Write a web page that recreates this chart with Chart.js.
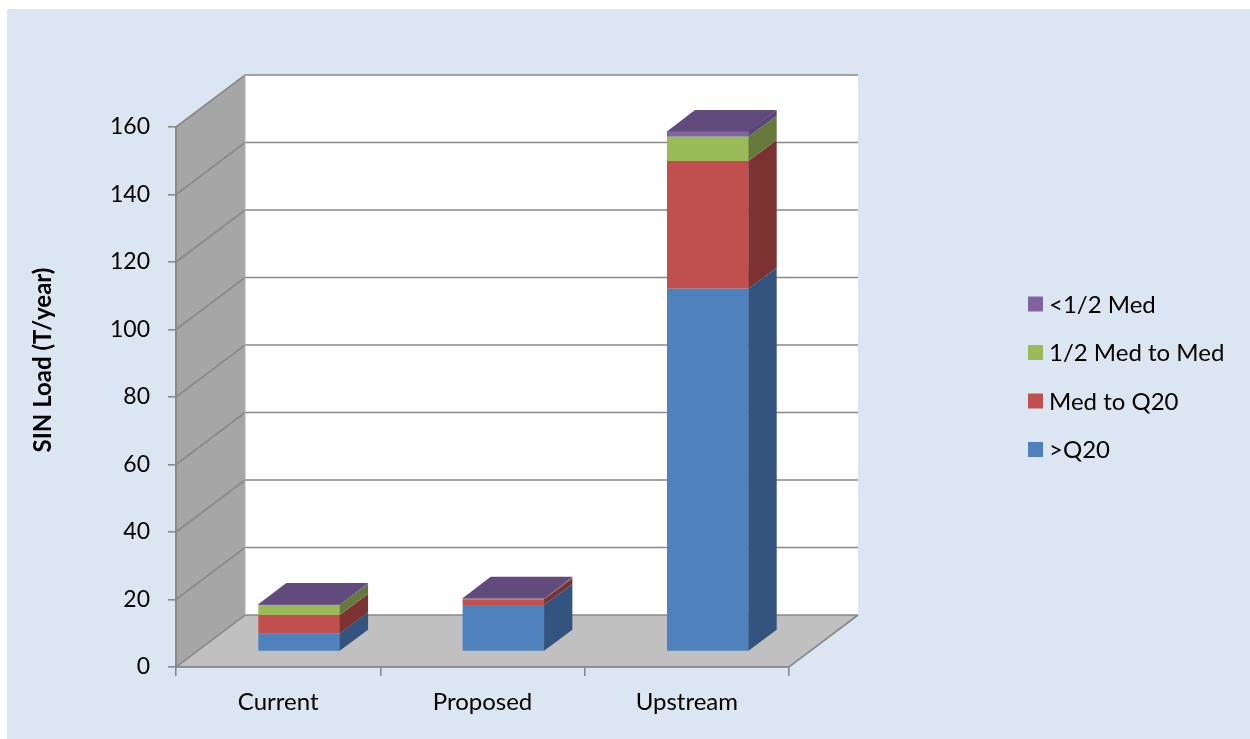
<!DOCTYPE html>
<html>
<head>
<meta charset="utf-8">
<script src="https://cdn.jsdelivr.net/npm/chart.js@4/dist/chart.umd.min.js"></script>
<style>
html,body{margin:0;padding:0;background:#ffffff;}
canvas{display:block;}
</style>
</head>
<body>
<canvas id="c" width="1250" height="739"></canvas>
<script>
const categories = ["Current", "Proposed", "Upstream"];
const seriesNames = [">Q20", "Med to Q20", "1/2 Med to Med", "<1/2 Med"];
const q20Above = [5.4, 13.8, 107.5];
const medToQ20 = [5.4, 1.7, 37.8];
const halfMedToMed = [3.0, 0.1, 7.2];
const belowHalfMed = [0.3, 0.3, 1.7];
const yTicks = [0, 20, 40, 60, 80, 100, 120, 140, 160];

const frontColors = ["#4f81bd", "#c0504d", "#9bbb59", "#8064a2"];
const sideColors = ["#32547f", "#7b3231", "#657a3a", "#5a4677"];
const topColors = ["#3d6699", "#9a403d", "#7c9647", "#614b7c"];

const FONT = "Lato, 'Open Sans', sans-serif";
const BAR_OFF = {x: 21, y: -15.5};
const BAR_DEPTH = {x: 28, y: -21};
const WALL_DEPTH = {x: 69, y: -52};
const GRID = "#898989";

const threeD = {
  id: "threeD",
  beforeDraw(chart) {
    const ctx = chart.ctx;
    const W = chart.width, H = chart.height;
    ctx.save();
    ctx.fillStyle = "#ffffff";
    ctx.fillRect(0, 0, W, H);
    ctx.fillStyle = "#dce6f2";
    ctx.fillRect(7, 9, W - 7, H - 9);
    const xs = chart.scales.x, ys = chart.scales.y;
    const L = xs.left, R = xs.right;
    const y0 = ys.getPixelForValue(yTicks[0]);
    const yT = ys.getPixelForValue(yTicks[yTicks.length - 1]);
    const dx = WALL_DEPTH.x, dy = WALL_DEPTH.y;
    // back wall
    ctx.fillStyle = "#ffffff";
    ctx.fillRect(L + dx, yT + dy, R - L, y0 - yT);
    // left wall
    ctx.fillStyle = "#a6a6a6";
    ctx.beginPath();
    ctx.moveTo(L, y0); ctx.lineTo(L, yT); ctx.lineTo(L + dx, yT + dy); ctx.lineTo(L + dx, y0 + dy); ctx.closePath();
    ctx.fill();
    // floor
    ctx.fillStyle = "#c0c0c0";
    ctx.beginPath();
    ctx.moveTo(L, y0); ctx.lineTo(R, y0); ctx.lineTo(R + dx, y0 + dy); ctx.lineTo(L + dx, y0 + dy); ctx.closePath();
    ctx.fill();
    // grid lines
    ctx.strokeStyle = GRID;
    ctx.lineWidth = 1.6;
    yTicks.forEach(v => {
      const y = ys.getPixelForValue(v);
      ctx.beginPath();
      ctx.moveTo(L, y); ctx.lineTo(L + dx, y + dy); ctx.lineTo(R + dx, y + dy);
      ctx.stroke();
    });
    // edges
    ctx.beginPath();
    ctx.moveTo(L, yT); ctx.lineTo(L, y0); ctx.lineTo(R, y0); ctx.lineTo(R + dx, y0 + dy);
    ctx.stroke();
    ctx.lineWidth = 1;
    ctx.strokeStyle = "#b0b0b0";
    ctx.beginPath();
    ctx.moveTo(L + dx, yT + dy); ctx.lineTo(L + dx, y0 + dy);
    ctx.stroke();
    ctx.restore();
  },
  beforeDatasetsDraw(chart) {
    chart.ctx.save();
    chart.ctx.translate(BAR_OFF.x, BAR_OFF.y);
  },
  afterDatasetsDraw(chart) {
    const ctx = chart.ctx;
    ctx.restore();
    ctx.save();
    const n = chart.data.datasets.length;
    const dx = BAR_DEPTH.x, dy = BAR_DEPTH.y;
    for (let d = 0; d < n; d++) {
      const meta = chart.getDatasetMeta(d);
      meta.data.forEach(el => {
        const p = el.getProps(["x", "y", "base", "width"], true);
        const xr = p.x + p.width / 2 + BAR_OFF.x;
        const yt = p.y + BAR_OFF.y, yb = p.base + BAR_OFF.y;
        if (Math.abs(yb - yt) < 0.01) return;
        ctx.fillStyle = sideColors[d];
        ctx.beginPath();
        ctx.moveTo(xr - 0.3, yt); ctx.lineTo(xr + dx, yt + dy); ctx.lineTo(xr + dx, yb + dy); ctx.lineTo(xr - 0.3, yb);
        ctx.closePath();
        ctx.fill();
      });
    }
    // top faces
    const topMeta = chart.getDatasetMeta(n - 1);
    topMeta.data.forEach((el, i) => {
      const p = el.getProps(["x", "y", "base", "width"], true);
      const xl = p.x - p.width / 2 + BAR_OFF.x;
      const xr = p.x + p.width / 2 + BAR_OFF.x;
      const yt = p.y + BAR_OFF.y;
      ctx.fillStyle = topColors[n - 1];
      ctx.beginPath();
      ctx.moveTo(xl, yt + 0.3); ctx.lineTo(xr, yt + 0.3); ctx.lineTo(xr + dx, yt + dy); ctx.lineTo(xl + dx, yt + dy);
      ctx.closePath();
      ctx.fill();
    });
    ctx.restore();
  },
  afterDraw(chart) {
    const ctx = chart.ctx;
    ctx.save();
    // y title
    ctx.translate(43, 360);
    ctx.rotate(-Math.PI / 2);
    ctx.fillStyle = "#000000";
    ctx.font = "bold 24px " + FONT;
    ctx.textAlign = "center";
    ctx.textBaseline = "middle";
    ctx.fillText("SIN Load (T/year)", 0, 0);
    ctx.restore();
    // legend
    ctx.save();
    ctx.font = "24px " + FONT;
    ctx.textBaseline = "middle";
    ctx.textAlign = "left";
    const ds = chart.data.datasets;
    const rowY0 = 304, rowStep = 48.5;
    for (let k = 0; k < ds.length; k++) {
      const d = ds.length - 1 - k;
      const cy = rowY0 + k * rowStep;
      ctx.fillStyle = ds[d].backgroundColor;
      ctx.fillRect(1028, cy - 7.5, 15, 15);
      ctx.fillStyle = "#000000";
      ctx.fillText(ds[d].label, 1049, cy + 1);
    }
    ctx.restore();
  }
};

const seriesValues = [q20Above, medToQ20, halfMedToMed, belowHalfMed];
const datasets = seriesNames.map((name, i) => ({
  label: name,
  data: seriesValues[i],
  backgroundColor: frontColors[i],
  borderWidth: 0,
  barPercentage: 0.4,
  categoryPercentage: 1.0,
  clip: false
}));

new Chart(document.getElementById("c"), {
  type: "bar",
  data: { labels: categories, datasets: datasets },
  plugins: [threeD],
  options: {
    responsive: false,
    animation: false,
    devicePixelRatio: 1,
    layout: { padding: { top: 127, left: 0, right: 461, bottom: 0 } },
    plugins: { legend: { display: false }, tooltip: { enabled: false } },
    scales: {
      x: {
        stacked: true,
        afterFit(scale) { scale.height = 72; },
        grid: { offset: true, drawOnChartArea: false, drawTicks: true, tickLength: 9, color: GRID, lineWidth: 1.6 },
        border: { display: true, color: GRID, width: 1.6 },
        ticks: { color: "#000000", font: { family: FONT, size: 24 }, padding: 12, maxRotation: 0 }
      },
      y: {
        stacked: true,
        min: 0,
        max: 160,
        afterFit(scale) { scale.width = 176; },
        afterBuildTicks(scale) { scale.ticks = yTicks.map(v => ({ value: v })); },
        grid: { drawOnChartArea: false, drawTicks: true, tickLength: 8, color: GRID, lineWidth: 1.6 },
        border: { display: true, color: GRID, width: 1.6 },
        ticks: { color: "#000000", font: { family: FONT, size: 23 }, padding: 18 }
      }
    }
  }
});
</script>
</body>
</html>
